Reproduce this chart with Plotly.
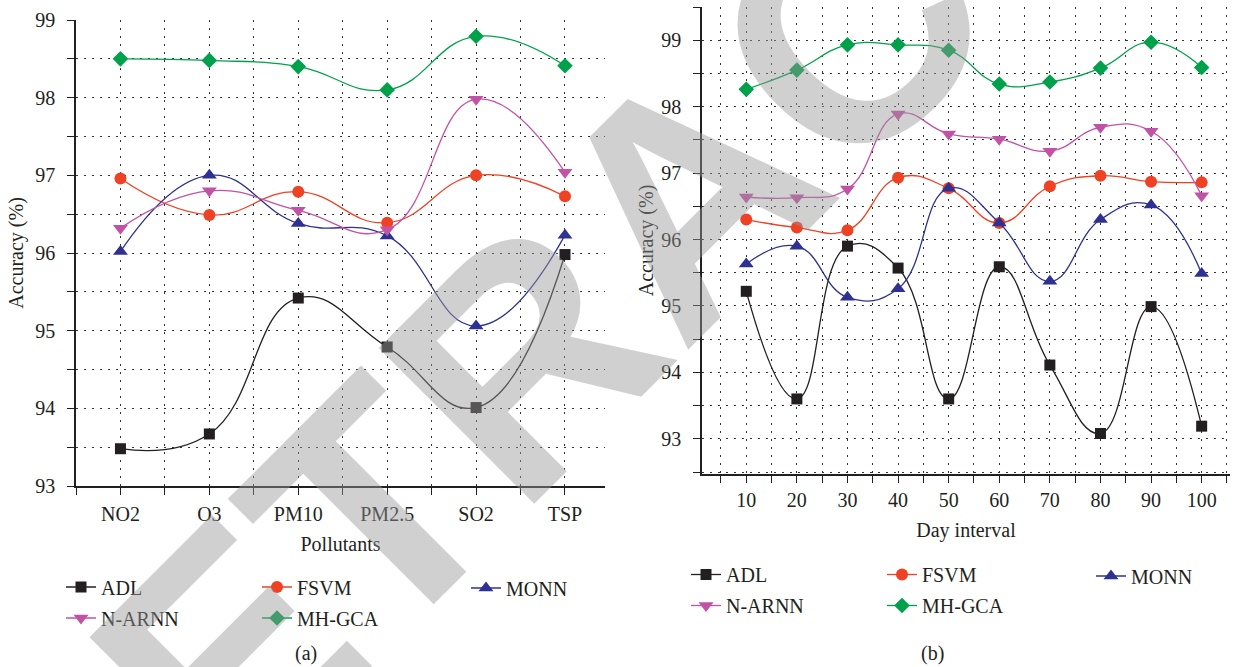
import plotly.graph_objects as go

# ---------------- data ----------------
pollutants = ["NO2", "O3", "PM10", "PM2.5", "SO2", "TSP"]
days = [10, 20, 30, 40, 50, 60, 70, 80, 90, 100]

series_names = ["ADL", "FSVM", "MONN", "N-ARNN", "MH-GCA"]

# panel (a): accuracy by pollutant
a_ADL = [93.48, 93.67, 95.42, 94.79, 94.01, 95.98]
a_FSVM = [96.96, 96.49, 96.79, 96.39, 97.00, 96.73]
a_MONN = [96.02, 97.00, 96.38, 96.22, 95.06, 96.23]
a_NARNN = [96.32, 96.80, 96.55, 96.30, 97.98, 97.04]
a_MHGCA = [98.50, 98.48, 98.40, 98.10, 98.79, 98.41]

# panel (b): accuracy by day interval
b_ADL = [95.22, 93.60, 95.90, 95.57, 93.60, 95.59, 94.11, 93.08, 94.99, 93.19]
b_FSVM = [96.30, 96.18, 96.14, 96.93, 96.77, 96.25, 96.80, 96.96, 96.87, 96.86]
b_MONN = [95.63, 95.90, 95.13, 95.26, 96.77, 96.25, 95.37, 96.30, 96.52, 95.49]
b_NARNN = [96.64, 96.63, 96.76, 97.89, 97.59, 97.51, 97.33, 97.69, 97.63, 96.66]
b_MHGCA = [98.26, 98.55, 98.93, 98.93, 98.85, 98.34, 98.37, 98.58, 98.97, 98.59]

# ---------------- style ----------------
colors = {"ADL": "#231f20", "FSVM": "#ef4123", "MONN": "#2e3192",
          "N-ARNN": "#c152a5", "MH-GCA": "#00a14b"}
symbols = {"ADL": "square", "FSVM": "circle", "MONN": "triangle-up",
           "N-ARNN": "triangle-down", "MH-GCA": "diamond"}
msize = {"ADL": 11, "FSVM": 12, "MONN": 13, "N-ARNN": 13, "MH-GCA": 12}

SERIF = "Liberation Serif"
INK = "#231f20"
W, H = 1233, 667

a_vals = [a_ADL, a_FSVM, a_MONN, a_NARNN, a_MHGCA]
b_vals = [b_ADL, b_FSVM, b_MONN, b_NARNN, b_MHGCA]

# legend column for each series (3 columns, 2 rows)
col_of = {"ADL": 0, "N-ARNN": 0, "FSVM": 1, "MH-GCA": 1, "MONN": 2}
a_legends = ["legend", "legend2", "legend3"]
b_legends = ["legend4", "legend5", "legend6"]

fig = go.Figure()
a_x = list(range(len(pollutants)))

for name, vals in zip(series_names, a_vals):
    fig.add_trace(go.Scatter(
        x=a_x, y=vals, name=name, mode="lines+markers",
        line=dict(color=colors[name], width=1.3, shape="spline", smoothing=1.3),
        marker=dict(symbol=symbols[name], size=msize[name], color=colors[name]),
        xaxis="x", yaxis="y", legendgroup="a-" + name,
        legend=a_legends[col_of[name]],
    ))
for name, vals in zip(series_names, b_vals):
    fig.add_trace(go.Scatter(
        x=days, y=vals, name=name, mode="lines+markers",
        line=dict(color=colors[name], width=1.3, shape="spline", smoothing=1.3),
        marker=dict(symbol=symbols[name], size=msize[name], color=colors[name]),
        xaxis="x2", yaxis="y2", legendgroup="b-" + name,
        legend=b_legends[col_of[name]],
    ))

GRIDDASH = "2px,6px"
grid_common = dict(showgrid=True, gridcolor="#333333", gridwidth=1, griddash=GRIDDASH)
axis_common = dict(showline=True, linecolor=INK, linewidth=1.5, ticks="outside",
                   ticklen=7, tickwidth=1, tickcolor=INK, zeroline=False,
                   automargin=False,
                   tickfont=dict(family=SERIF, size=20, color=INK), mirror=False)

def minor(dt, t0):
    return dict(dtick=dt, tick0=t0, ticks="outside", ticklen=7, tickwidth=1,
                tickcolor=INK, showgrid=True, gridcolor="#333333", gridwidth=1,
                griddash=GRIDDASH)

legend_font = dict(family=SERIF, size=20, color=INK)
def leg(line_x, ymid):
    return dict(orientation="v", x=(line_x - 8) / W, y=1 - ymid / H, xanchor="left",
                yanchor="middle", font=legend_font, bgcolor="rgba(0,0,0,0)",
                itemwidth=30, tracegroupgap=2)

def title(text):
    return dict(text=text, font=dict(family=SERIF, size=20, color=INK))

fig.update_layout(
    width=W, height=H, margin=dict(l=0, r=0, t=0, b=0, autoexpand=False),
    paper_bgcolor="white", plot_bgcolor="rgba(0,0,0,0)",
    showlegend=True,
    xaxis=dict(domain=[76 / W, 605 / W], range=[-0.5, 5.45], tickmode="array",
               tickvals=a_x, ticktext=pollutants, minor=minor(0.5, -0.5),
               title=dict(**title("Pollutants"), standoff=13), ticklabelstandoff=2,
               anchor="y", **grid_common, **axis_common),
    yaxis=dict(domain=[1 - 486 / H, 1 - 20 / H], range=[93, 99], dtick=1, tick0=93,
               minor=minor(0.5, 93), ticklabelstandoff=8,
               title=dict(**title("Accuracy (%)"), standoff=6),
               anchor="x", **grid_common, **axis_common),
    xaxis2=dict(domain=[702 / W, 1230 / W], range=[1.25, 105.6], tickmode="array",
                tickvals=days, minor=minor(5, 0),
                title=dict(**title("Day interval"), standoff=13),
                anchor="y2", **grid_common, **axis_common),
    yaxis2=dict(domain=[1 - 474 / H, 1 - 7 / H], range=[92.47, 99.5], dtick=1, tick0=93,
                minor=minor(0.5, 92.5), ticklabelstandoff=8,
                title=dict(**title("Accuracy (%)"), standoff=2),
                anchor="x2", **grid_common, **axis_common),
    legend=leg(69, 602.5),
    legend2=leg(265, 602.5),
    legend3=leg(474, 588),
    legend4=leg(694, 590),
    legend5=leg(890, 590),
    legend6=leg(1099, 576),
    annotations=[
        dict(text="RETRACTED", xref="paper", yref="paper", x=686 / W, y=1 - 195 / H,
             xanchor="center", yanchor="middle", showarrow=False, textangle=-45,
             font=dict(family="Liberation Sans", size=320, weight="bold",
                       color="rgba(150,150,150,0.45)")),
        dict(text="(a)", xref="paper", yref="paper", x=306 / W, y=1 - 653 / H,
             xanchor="center", yanchor="middle", showarrow=False,
             font=dict(family=SERIF, size=20, color=INK)),
        dict(text="(b)", xref="paper", yref="paper", x=932 / W, y=1 - 653 / H,
             xanchor="center", yanchor="middle", showarrow=False,
             font=dict(family=SERIF, size=20, color=INK)),
    ],
)

fig.write_html("out.html", config={"displayModeBar": False},
               post_script="document.body.style.margin='0px';")
